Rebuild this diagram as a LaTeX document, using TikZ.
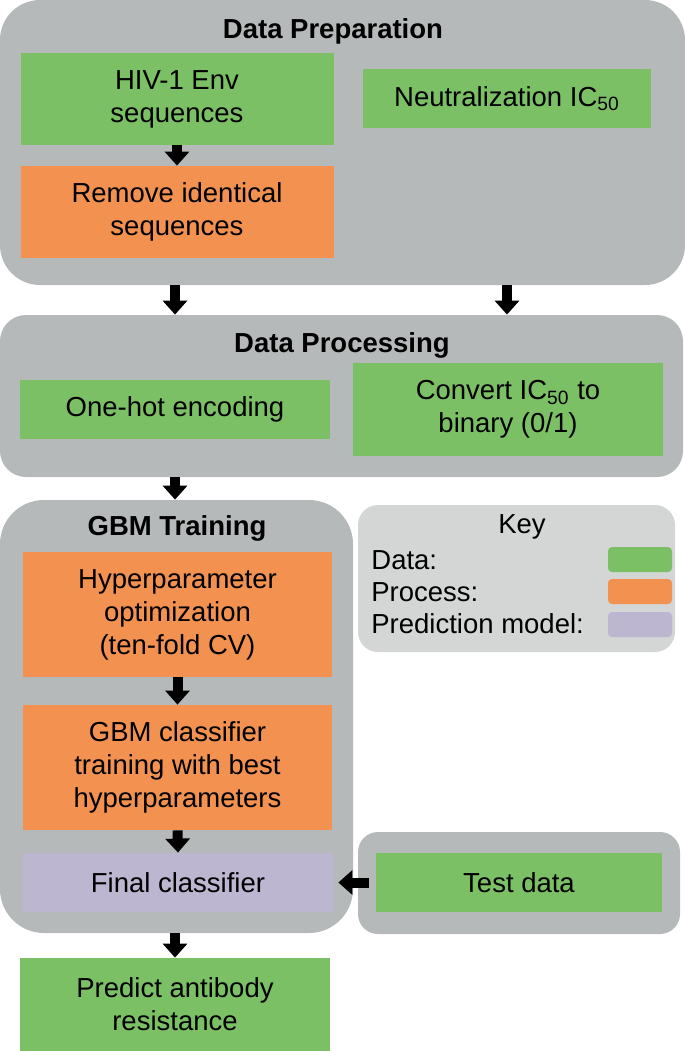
\documentclass[tikz,border=0pt]{standalone}
\usepackage{fontspec}
\setmainfont{Liberation Sans}
\usepackage{tikz}
\usetikzlibrary{arrows.meta, positioning, calc}

\definecolor{DataGreen}{RGB}{124, 192, 102}
\definecolor{ProcOrange}{RGB}{242, 145, 80}
\definecolor{ModelPurple}{RGB}{189, 182, 208}
\definecolor{GroupGray}{RGB}{182, 185, 186}
\definecolor{KeyGray}{RGB}{212, 214, 214}

\newcommand{\flowfont}{\fontsize{13.75}{16.5}\selectfont}

\begin{document}
\begin{tikzpicture}[x=0.5pt, y=-0.5pt,
    group/.style={fill=GroupGray, inner sep=0pt},
    boxbase/.style={align=center, inner sep=0pt, font=\flowfont},
    databox/.style={boxbase, fill=DataGreen},
    procbox/.style={boxbase, fill=ProcOrange},
    modelbox/.style={boxbase, fill=ModelPurple},
    grouptitle/.style={font=\flowfont\bfseries, inner sep=0pt},
    keytext/.style={font=\flowfont, inner sep=0pt, anchor=west},
    swatch/.style={minimum width=32pt, minimum height=12.5pt, rounded corners=2pt, inner sep=0pt},
    blk/.style={line width=5pt, -{Triangle[width=12pt, length=7pt]}}]
    \useasboundingbox (0, 0) rectangle (685, 1051);

    % group frames
    \node[group, rounded corners=20pt, minimum width=342.5pt, minimum height=142.5pt] (prep) at (342.5, 142.5) {};
    \node[group, rounded corners=13pt, minimum width=341.5pt, minimum height=81pt] (proc) at (341.5, 396) {};
    \node[group, rounded corners=22pt, minimum width=176.5pt, minimum height=216.5pt] (gbm) at (176.5, 716.5) {};
    \node[group, rounded corners=10pt, minimum width=161pt, minimum height=51pt] (testgrp) at (519, 883) {};
    \node[fill=KeyGray, rounded corners=10pt, minimum width=158.5pt, minimum height=73.5pt, inner sep=0pt] (key) at (516.5, 578.5) {};

    % data preparation
    \node[grouptitle] (preptitle) at (333, 31) {Data Preparation};
    \node[databox, minimum width=156.5pt, minimum height=46pt] (hiv) at (177, 99) {HIV-1 Env\\sequences};
    \node[procbox, minimum width=156.5pt, minimum height=46pt] (remove) at (177, 212) {Remove identical\\sequences};
    \node[databox, minimum width=144pt, minimum height=29.5pt] (neutral) at (507, 98.5) {Neutralization IC\textsubscript{50}};

    % data processing
    \node[grouptitle] (proctitle) at (342, 345) {Data Processing};
    \node[databox, minimum width=155pt, minimum height=29.5pt] (onehot) at (175, 409.5) {One-hot encoding};
    \node[databox, minimum width=155pt, minimum height=46.5pt] (convert) at (508, 409.5) {Convert IC\textsubscript{50} to\\binary (0/1)};

    % GBM training
    \node[grouptitle] (gbmtitle) at (177, 528) {GBM Training};
    \node[procbox, minimum width=154.5pt, minimum height=62.5pt] (hyper) at (177.5, 614.5) {Hyperparameter\\optimization\\(ten-fold CV)};
    \node[procbox, minimum width=154.5pt, minimum height=62.5pt] (gbmclf) at (177.5, 767.5) {GBM classifier\\training with best\\hyperparameters};
    \node[modelbox, minimum width=155pt, minimum height=29.5pt] (final) at (178, 882.5) {Final classifier};

    \node[databox, minimum width=143pt, minimum height=29.5pt] (test) at (519, 882.5) {Test data};
    \node[databox, minimum width=155pt, minimum height=46.5pt] (predict) at (175, 1004.5) {Predict antibody\\resistance};

    % key
    \node[font=\flowfont, inner sep=0pt] (keytitle) at (522, 527) {Key};
    \node[keytext] (keydata) at (371, 560) {Data:};
    \node[keytext] (keyproc) at (371, 592) {Process:};
    \node[keytext] (keymodel) at (371, 624) {Prediction model:};
    \node[swatch, fill=DataGreen] (swdata) at (640, 559.5) {};
    \node[swatch, fill=ProcOrange] (swproc) at (640, 591.5) {};
    \node[swatch, fill=ModelPurple] (swmodel) at (640, 624.5) {};

    % arrows
    \draw[blk] (hiv.south) -- (remove.north);
    \draw[blk] (onehot |- prep.south) -- (onehot |- proc.north);
    \draw[blk] (neutral |- prep.south) -- (neutral |- proc.north);
    \draw[blk] (onehot |- proc.south) -- (onehot |- gbm.north);
    \draw[blk] (hyper.south) -- (gbmclf.north);
    \draw[blk] (gbmclf.south) -- (final.north);
    \draw[blk] (predict |- gbm.south) -- (predict.north);
    \draw[blk, shorten <=3.5pt, shorten >=2.5pt] (test.west) -- (final.east);
\end{tikzpicture}
\end{document}
